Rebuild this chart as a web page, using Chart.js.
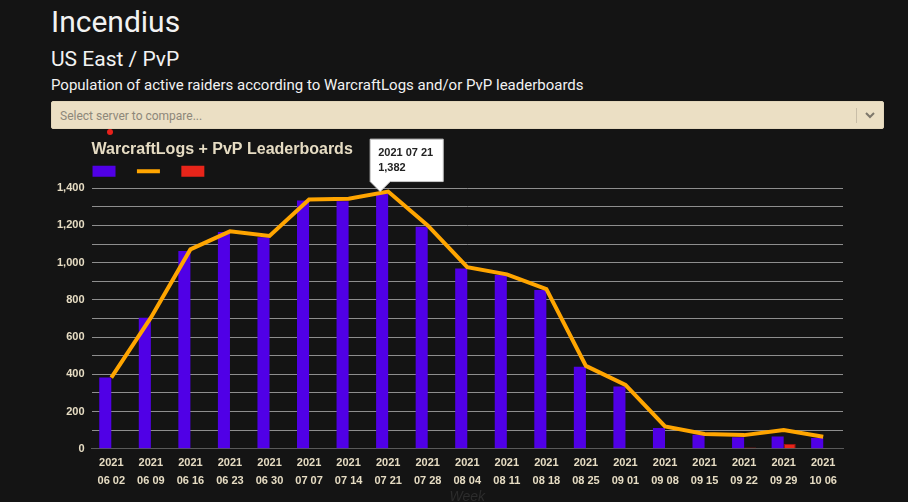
<!DOCTYPE html>
<html>
<head>
<meta charset="utf-8">
<script src="https://cdn.jsdelivr.net/npm/chart.js@4.4.1/dist/chart.umd.min.js"></script>
<style>
    html, body { margin: 0; padding: 0; overflow: hidden; }
    body { background: #141414; width: 908px; height: 502px; position: relative; font-family: Roboto, 'Liberation Sans', sans-serif; }
    .txt { position: absolute; left: 51px; color: #f2f2f2; line-height: 1; white-space: nowrap; }
    #realm { top: 7px; font-size: 30px; }
    #region { top: 49px; font-size: 21px; }
    #desc { top: 78px; font-size: 15px; }
    #picker { position: absolute; left: 51px; top: 101px; width: 833px; height: 28px; background: #ebdfc4; border-radius: 2px; box-sizing: border-box; border: 1px solid #e2d6bb; }
    #picker span { position: absolute; left: 8px; top: 7px; font-size: 12px; color: #8d877a; }
    #picker .sep { position: absolute; left: 804px; top: 6px; width: 1px; height: 15px; background: #c9bea8; }
    #picker svg { position: absolute; left: 812px; top: 8px; }
    #dot { position: absolute; left: 107px; top: 129px; width: 6px; height: 6px; border-radius: 50%; background: #e8211b; }
    #wrap { position: absolute; left: 42px; top: 130px; width: 842px; height: 378px; }
</style>
</head>
<body>
<div class="txt" id="realm">Incendius</div>
<div class="txt" id="region">US East / PvP</div>
<div class="txt" id="desc">Population of active raiders according to WarcraftLogs and/or PvP leaderboards</div>
<div id="picker">
    <span>Select server to compare...</span>
    <div class="sep"></div>
    <svg width="12" height="10" viewBox="0 0 12 10"><path d="M2 3 L6 7 L10 3" fill="none" stroke="#7d776b" stroke-width="2"/></svg>
</div>
<div id="wrap"><canvas id="popChart"></canvas></div>
<div id="dot"></div>
<script>
const weeks = ['2021 06 02', '2021 06 09', '2021 06 16', '2021 06 23', '2021 06 30', '2021 07 07', '2021 07 14',
    '2021 07 21', '2021 07 28', '2021 08 04', '2021 08 11', '2021 08 18', '2021 08 25', '2021 09 01',
    '2021 09 08', '2021 09 15', '2021 09 22', '2021 09 29', '2021 10 06'];
const logsRaiders = [382, 704, 1062, 1165, 1137, 1334, 1330, 1372, 1193, 969, 934, 853, 440, 334, 111, 75, 61, 66, 57];
const totalRaiders = [382, 704, 1071, 1168, 1143, 1339, 1343, 1382, 1200, 976, 937, 858, 445, 343, 120, 79, 73, 100, 64];
const pvpOnly = [2, 2, 2, 2, 2, 2, 2, 2, 2, 2, 2, 2, 2, 2, 3, 2, 6, 25, 2];

const beige = '#e6dcc3';
const baseFont = "'Liberation Sans', Arial, sans-serif";

// small gap between legend and plot
const legendGap = {
    id: 'legendGap',
    beforeInit(chart) {
        const fit = chart.legend.fit;
        chart.legend.fit = function () {
            fit.bind(chart.legend)();
            this.height += 1;
        };
    }
};

// tooltip sits a little to the left of the point
Chart.Tooltip.positioners.leftOf = function (elements) {
    if (!elements.length) return false;
    const el = elements[0].element;
    return { x: el.x - 8, y: el.y };
};

const ctx = document.getElementById('popChart').getContext('2d');
const chart = new Chart(ctx, {
    type: 'bar',
    data: {
        labels: weeks,
        datasets: [{
            label: 'WarcraftLogs',
            data: logsRaiders,
            backgroundColor: '#5000e6',
            borderWidth: 0,
            order: 1
        }, {
            type: 'line',
            label: 'Total',
            data: totalRaiders,
            borderColor: '#ffa500',
            backgroundColor: '#ffa500',
            borderWidth: 4,
            pointRadius: 0,
            pointHoverRadius: 0,
            tension: 0,
            order: 0
        }, {
            label: 'PvP',
            data: pvpOnly,
            backgroundColor: '#e8251a',
            borderColor: '#9e1410',
            borderWidth: 1,
            order: 2
        }]
    },
    options: {
        responsive: true,
        maintainAspectRatio: false,
        animation: false,
        layout: { padding: { left: 8, right: 41, top: 0, bottom: 0 } },
        datasets: {
            bar: { categoryPercentage: 0.61, barPercentage: 1.0 }
        },
        scales: {
            x: {
                grid: { display: false, drawTicks: false },
                border: { color: '#5a5a5a' },
                ticks: {
                    color: beige,
                    maxRotation: 0,
                    autoSkip: false,
                    padding: 5,
                    font: { family: baseFont, size: 11, weight: 'bold', lineHeight: 1.65 },
                    callback: function (value) {
                        const label = this.getLabelForValue(value);
                        return [label.slice(0, 4), label.slice(5)];
                    }
                },
                title: {
                    display: true,
                    text: 'Week',
                    color: '#2c2c2c',
                    padding: { top: -5, bottom: 4 },
                    font: { family: baseFont, size: 14, style: 'italic', lineHeight: 1 }
                }
            },
            y: {
                min: 0,
                max: 1400,
                grid: {
                    drawTicks: false,
                    color: c => c.tick.value === 0 ? '#5a5a5a' : '#8e8e8e'
                },
                border: { display: false },
                ticks: {
                    stepSize: 100,
                    color: beige,
                    padding: 7,
                    font: { family: baseFont, size: 11, weight: 'bold' },
                    callback: v => v % 200 === 0 ? v.toLocaleString('en-US') : ''
                }
            }
        },
        plugins: {
            title: {
                display: true,
                text: 'WarcraftLogs + PvP Leaderboards',
                align: 'start',
                fullSize: false,
                color: beige,
                padding: { top: 10, bottom: 5 },
                font: { family: baseFont, size: 16, weight: 'bold' }
            },
            legend: {
                display: true,
                align: 'start',
                fullSize: false,
                labels: {
                    usePointStyle: true,
                    pointStyleWidth: 23,
                    boxHeight: 11,
                    padding: 1,
                    font: { family: baseFont, size: 12 },
                    generateLabels: chart => chart.data.datasets.map((ds, i) => ({
                        text: '\u2003\u2009',
                        fillStyle: ds.backgroundColor,
                        strokeStyle: ds.type === 'line' ? ds.borderColor : ds.backgroundColor,
                        lineWidth: ds.type === 'line' ? 4 : 0,
                        pointStyle: ds.type === 'line' ? 'line' : 'rect',
                        datasetIndex: i
                    }))
                }
            },
            tooltip: {
                position: 'leftOf',
                backgroundColor: '#ffffff',
                borderColor: '#c8c8c8',
                borderWidth: 1,
                titleColor: '#222222',
                bodyColor: '#222222',
                titleFont: { family: baseFont, size: 11, weight: 'bold' },
                bodyFont: { family: baseFont, size: 11, weight: 'bold' },
                titleMarginBottom: 2,
                padding: { top: 7, bottom: 7, left: 8, right: 10 },
                cornerRadius: 0,
                caretSize: 10,
                caretPadding: 0,
                displayColors: false,
                xAlign: 'left',
                yAlign: 'bottom',
                callbacks: {
                    label: item => item.formattedValue
                }
            }
        }
    },
    plugins: [legendGap]
});

// show the tooltip on the peak week, like in the screenshot
const peak = totalRaiders.indexOf(Math.max(...totalRaiders));
const pt = chart.getDatasetMeta(1).data[peak];
chart.tooltip.setActiveElements([{ datasetIndex: 1, index: peak }], { x: pt.x, y: pt.y });
chart.update();
</script>
</body>
</html>
